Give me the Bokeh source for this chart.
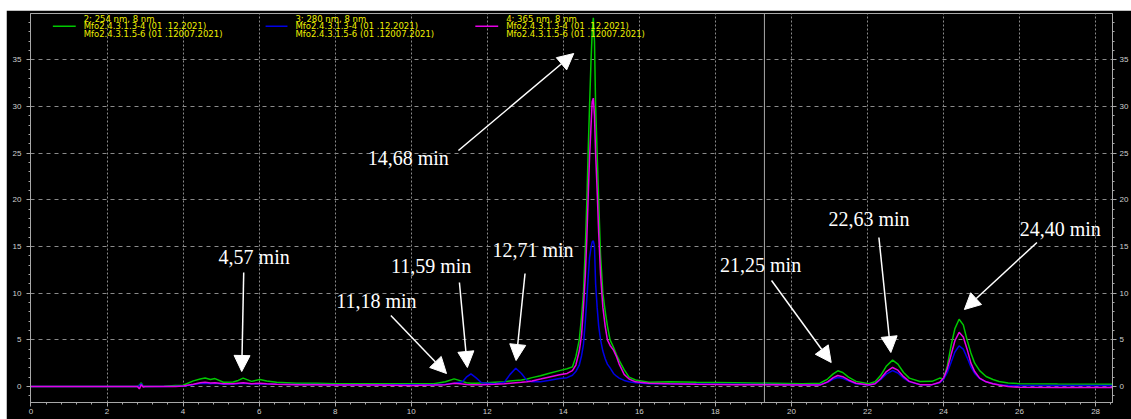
from bokeh.plotting import figure
from bokeh.embed import file_html
from bokeh.resources import INLINE
from bokeh.models import (Range1d, LinearAxis, SingleIntervalTicker, Span, Arrow,
                          NormalHead, Label, Spacer)
from bokeh.layouts import column, row
from bokeh.core.properties import value

# ---------------- data ----------------
minutes = [
    0.0, 2.8, 2.85, 2.9, 2.95, 3.0, 3.5,
    3.8, 4.0, 4.27, 4.45, 4.58, 4.72, 4.84, 5.06, 5.32, 5.45, 5.58, 5.8, 6.02, 6.2, 6.46, 6.98,
    7.5, 8.0, 9.0, 10.0, 10.6, 10.9, 11.13, 11.35, 11.45, 11.57, 11.7, 11.85, 12.2, 12.45, 12.6,
    12.75, 12.9, 13.05, 13.18, 13.4, 13.61, 13.9,
    14.1, 14.24, 14.33, 14.42, 14.48, 14.53, 14.58, 14.62, 14.66, 14.69, 14.73, 14.76, 14.79,
    14.82, 14.85, 14.89, 14.93, 14.98, 15.04, 15.1, 15.16, 15.23, 15.32, 15.4, 15.47, 15.6,
    15.73, 15.9, 16.25,
    16.8, 17.5, 18.5, 19.5, 20.3,
    20.75, 20.95, 21.1, 21.22, 21.35, 21.5, 21.7, 22.03, 22.2, 22.35, 22.5, 22.66, 22.8, 22.95,
    23.1, 23.38, 23.7, 23.9, 24.0, 24.1, 24.2, 24.3, 24.41, 24.52, 24.62, 24.72, 24.82, 24.95,
    25.12, 25.3, 25.46, 25.7, 26.0, 27.0, 28.45,
]

nm254 = [
    0.0, 0.0, 0.15, 0.4, 0.05, 0.0, 0.02,
    0.12, 0.14, 0.6, 0.8, 0.9, 0.75, 0.85, 0.46, 0.48, 0.65, 0.9, 0.55, 0.75, 0.6, 0.46, 0.36,
    0.34, 0.3, 0.3, 0.3, 0.3, 0.5, 0.82, 0.55, 0.4, 0.35, 0.35, 0.38, 0.45, 0.5, 0.58,
    0.64, 0.7, 0.8, 0.95, 1.15, 1.4, 1.7,
    1.9, 2.1, 3.2, 5.0, 7.5, 10.0, 15.0, 20.0, 26.0, 30.0, 35.0, 38.0, 39.5,
    37.0, 30.0, 25.0, 20.0, 14.0, 10.0, 8.1, 6.5, 5.0, 4.2, 3.4, 2.8, 1.8,
    1.0, 0.7, 0.46,
    0.5, 0.45, 0.4, 0.35, 0.3,
    0.35, 0.8, 1.35, 1.68, 1.5, 1.0, 0.55, 0.29, 0.5, 1.2, 2.2, 2.83, 2.4, 1.5,
    0.9, 0.54, 0.55, 0.9, 0.8, 2.2, 4.4, 6.2, 7.2, 6.6, 5.0, 3.6, 2.5, 1.7,
    1.07, 0.75, 0.54, 0.38, 0.3, 0.26, 0.25,
]

nm280 = [
    0.0, 0.0, 0.1, 0.3, 0.0, 0.0, 0.0,
    0.02, 0.05, 0.2, 0.32, 0.36, 0.3, 0.34, 0.25, 0.26, 0.3, 0.34, 0.26, 0.3, 0.26, 0.24, 0.22,
    0.22, 0.2, 0.2, 0.2, 0.2, 0.25, 0.35, 0.5, 1.0, 1.36, 0.95, 0.4, 0.3, 0.45, 1.3,
    1.96, 1.4, 0.6, 0.5, 0.5, 0.64, 0.85,
    0.95, 1.2, 1.6, 2.3, 3.3, 4.5, 7.0, 9.5, 12.0, 13.8, 14.9, 15.5, 15.6,
    15.0, 11.0, 8.5, 6.5, 5.0, 3.8, 3.0, 2.4, 2.0, 1.4, 1.1, 0.9, 0.65,
    0.5, 0.4, 0.3,
    0.3, 0.28, 0.25, 0.22, 0.2,
    0.2, 0.45, 0.8, 0.96, 0.88, 0.6, 0.3, 0.15, 0.3, 0.75, 1.35, 1.71, 1.45, 0.9,
    0.5, 0.2, 0.2, 0.4, 0.75, 1.5, 2.6, 3.7, 4.36, 4.0, 3.1, 2.1, 1.4, 0.85,
    0.5, 0.3, 0.2, 0.12, 0.1, 0.1, 0.1,
]

nm365 = [
    0.0, 0.0, -0.25, 0.2, -0.05, 0.0, 0.0,
    0.0, 0.05, 0.25, 0.4, 0.46, 0.38, 0.4, 0.29, 0.3, 0.35, 0.4, 0.3, 0.36, 0.3, 0.25, 0.2,
    0.18, 0.15, 0.15, 0.12, 0.15, 0.2, 0.35, 0.28, 0.22, 0.2, 0.2, 0.2, 0.25, 0.3, 0.35,
    0.4, 0.45, 0.52, 0.6, 0.8, 1.0, 1.25,
    1.4, 1.7, 2.3, 3.8, 5.5, 8.5, 12.0, 16.0, 21.0, 24.5, 28.0, 30.5, 30.9,
    29.0, 25.0, 21.0, 16.5, 12.0, 8.5, 6.5, 5.0, 4.4, 3.9, 3.2, 2.4, 1.3,
    0.8, 0.5, 0.35,
    0.3, 0.25, 0.2, 0.2, 0.15,
    0.15, 0.5, 0.95, 1.18, 1.05, 0.7, 0.35, 0.15, 0.3, 0.85, 1.6, 2.04, 1.75, 1.05,
    0.55, 0.2, 0.2, 0.45, 0.9, 1.9, 3.4, 4.9, 5.8, 5.3, 4.0, 2.5, 1.6, 0.9,
    0.5, 0.3, 0.15, 0.0, -0.08, -0.1, -0.1,
]

series_colors = ["#00c800", "#0000e6", "#e600e6"]

legend_heads = ["2: 254 nm, 8 nm", "3: 280 nm, 8 nm", "4: 365 nm, 8 nm"]
legend_sample1 = "Mfo2.4.3.1.3-4 (01 .12.2021)"
legend_sample2 = "Mfo2.4.3.1.5-6  (01 .12007.2021)"

peak_labels = ["4,57 min", "11,18 min", "11,59 min", "12,71 min",
               "14,68 min", "21,25 min", "22,63 min", "24,40 min"]

# ---------------- layout helpers (page pixels -> data) ----------------
X0_PX, PX_PER_MIN = 30.0, 38.25
Y0_PX, PX_PER_UNIT = 386.0, 9.333


def dx(px):
    return (px - X0_PX) / PX_PER_MIN


def dy(py):
    return (Y0_PX - py) / PX_PER_UNIT


GRAY = "#a8a8a8"

p = figure(width=1125, height=409,
           x_range=Range1d(dx(29.5), dx(1118)), y_range=Range1d(dy(402), dy(13)),
           output_backend="svg", toolbar_location=None,
           min_border_left=24, min_border_right=13, min_border_top=3, min_border_bottom=17)
p.background_fill_color = "black"
p.border_fill_color = "black"
p.outline_line_color = GRAY

xt = SingleIntervalTicker(interval=2, num_minor_ticks=5)
yt = SingleIntervalTicker(interval=5, num_minor_ticks=5)
p.xaxis.ticker = xt
p.yaxis.ticker = yt


def style_axis(ax, standoff):
    ax.axis_line_color = GRAY
    ax.major_tick_line_color = GRAY
    ax.minor_tick_line_color = GRAY
    ax.major_tick_out = 4
    ax.major_tick_in = 0
    ax.minor_tick_out = 2
    ax.minor_tick_in = 0
    ax.major_label_text_color = "#cfcfcf"
    ax.major_label_text_font = "Liberation Sans"
    ax.major_label_text_font_size = "8px"
    ax.major_label_standoff = standoff


for ax in p.xaxis:
    style_axis(ax, 2)
for ax in p.yaxis:
    style_axis(ax, 5)

right_axis = LinearAxis(ticker=SingleIntervalTicker(interval=5, num_minor_ticks=5))
style_axis(right_axis, 3)
p.add_layout(right_axis, "right")

p.xgrid.grid_line_color = "#8a8a8a"
p.xgrid.grid_line_dash = "2 2"
p.ygrid.grid_line_color = "#8a8a8a"
p.ygrid.grid_line_dash = "4 4"

p.add_layout(Span(location=19.29, dimension="height", line_color=GRAY, line_width=1))

# chromatogram traces
for ys, col in zip([nm254, nm280, nm365], series_colors):
    p.line(minutes, ys, line_color=col, line_width=1.5)

# legend (three groups)
group_line_px = [(52, 75), (266, 288), (477, 500)]
group_text_px = [83, 296, 508]
for (a, b), tx, col, head in zip(group_line_px, group_text_px, series_colors, legend_heads):
    p.segment(x0=[dx(a)], y0=[dy(25.7)], x1=[dx(b)], y1=[dy(25.7)], line_color=col, line_width=1.5)
    p.text(x=[dx(tx)] * 3, y=[dy(18.3), dy(25.9), dy(33.5)],
           text=[head, legend_sample1, legend_sample2],
           text_color="#eeee00", text_font=value("DejaVu Sans"), text_font_size="8.5px",
           text_baseline="middle", text_align="left")

# peak annotations
label_px = [(254.5, 256), (377.5, 300), (432.5, 265), (535, 249),
            (409.5, 157), (764, 264), (873, 218), (1065.5, 228)]
arrow_px = [((244, 272), (242, 371)), ((392, 315), (448, 373)), ((461, 282), (469, 367)),
            ((527, 273), (518, 360)), ((460, 150), (576, 53)), ((775, 280), (835, 362)),
            ((883, 237), (895, 352)), ((1042, 242), (969, 309))]
for txt, (lx, ly), ((sx, sy), (ex, ey)) in zip(peak_labels, label_px, arrow_px):
    p.add_layout(Label(x=dx(lx), y=dy(ly), text=txt, text_color="white",
                       text_font="Liberation Serif", text_font_size="20px",
                       text_align="center", text_baseline="middle"))
    p.add_layout(Arrow(end=NormalHead(size=16, fill_color="white", line_color="white"),
                       x_start=dx(sx), y_start=dy(sy), x_end=dx(ex), y_end=dy(ey),
                       line_color="white", line_width=1.5))

p.add_layout(Label(x=dx(574), y=dy(413.5), text="Minutes", text_color="#cfcfcf",
                   text_font="Liberation Sans", text_font_size="8px",
                   text_align="center", text_baseline="middle"))

layout = column(Spacer(height=10, width=1131), row(Spacer(width=6, height=409), p))
open("out.html", "w").write(file_html(layout, INLINE))
